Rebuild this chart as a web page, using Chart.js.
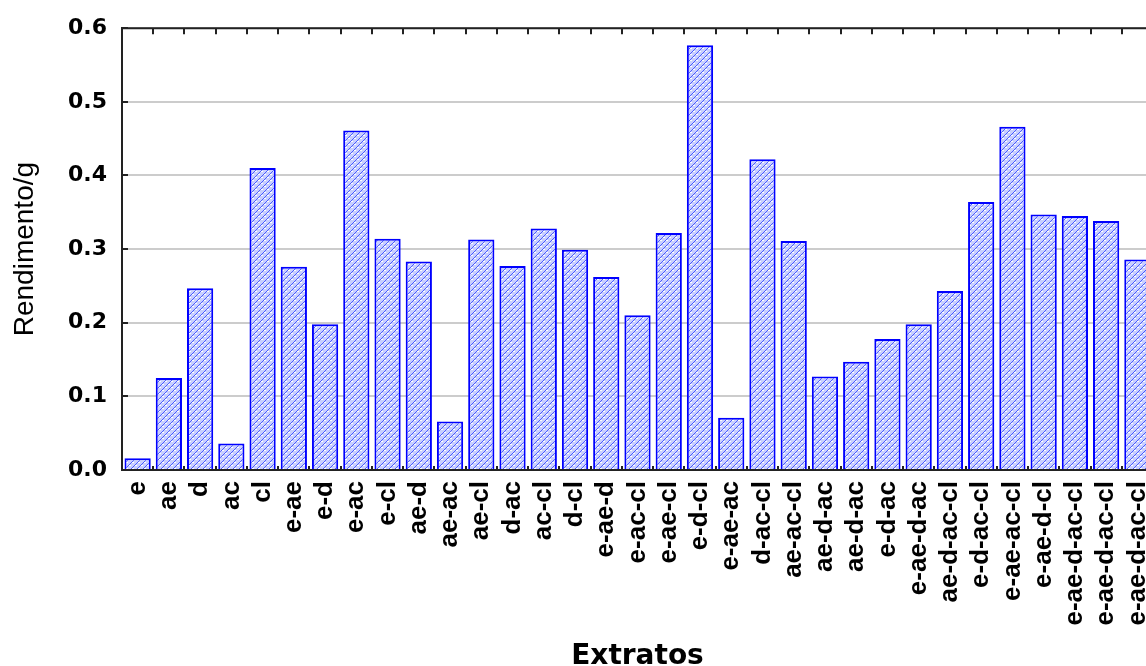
<!DOCTYPE html>
<html>
<head>
<meta charset="utf-8">
<script src="https://cdn.jsdelivr.net/npm/chart.js"></script>
<style>
  html, body { margin: 0; padding: 0; background: #fff; overflow: hidden; }
  #wrap { width: 1146px; height: 666px; overflow: hidden; }
  canvas { display: block; }
</style>
</head>
<body>
<div id="wrap"><canvas id="c" width="1156" height="666" style="width:1156px;height:666px"></canvas></div>
<script>
const categories = ["e","ae","d","ac","cl","e-ae","e-d","e-ac","e-cl","ae-d","ae-ac","ae-cl","d-ac","ac-cl","d-cl","e-ae-d","e-ac-cl","e-ae-cl","e-d-cl","e-ae-ac","d-ac-cl","ae-ac-cl","ae-d-ac","ae-d-ac","e-d-ac","e-ae-d-ac","ae-d-ac-cl","e-d-ac-cl","e-ae-ac-cl","e-ae-d-cl","e-ae-d-ac-cl","e-ae-d-ac-cl","e-ae-d-ac-cl"];
const rendimento = [0.016,0.125,0.247,0.036,0.410,0.276,0.198,0.461,0.314,0.283,0.066,0.313,0.277,0.328,0.299,0.262,0.210,0.322,0.577,0.071,0.422,0.311,0.127,0.147,0.178,0.198,0.243,0.364,0.466,0.347,0.345,0.338,0.286];
const yMin = 0, yMax = 0.6, yStep = 0.1;
const yTitle = "Rendimento/g";
const xTitle = "Extratos";

function makePattern() {
  const p = document.createElement('canvas');
  p.width = 6; p.height = 6;
  const g = p.getContext('2d');
  g.fillStyle = '#c9cfff';
  g.fillRect(0, 0, 6, 6);
  g.fillStyle = '#ffffff';
  g.fillRect(0, 0, 2, 1);
  g.fillRect(3, 3, 2, 1);
  g.strokeStyle = '#4a5cff';
  g.lineWidth = 1;
  g.beginPath();
  g.moveTo(0, 6); g.lineTo(6, 0);
  g.moveTo(-1, 1); g.lineTo(1, -1);
  g.moveTo(5, 7); g.lineTo(7, 5);
  g.stroke();
  return document.getElementById('c').getContext('2d').createPattern(p, 'repeat');
}

const frameTicks = {
  id: 'frameTicks',
  afterDraw(chart) {
    const ctx = chart.ctx;
    const a = chart.chartArea;
    const xs = chart.scales.x;
    const ys = chart.scales.y;
    ctx.save();
    ctx.strokeStyle = '#222';
    ctx.lineWidth = 2;
    ctx.beginPath();
    ctx.moveTo(a.left, a.top);
    ctx.lineTo(a.right + 2, a.top);
    ctx.stroke();
    const n = categories.length;
    const w = (xs.getPixelForValue(n - 1) - xs.getPixelForValue(0)) / (n - 1);
    ctx.beginPath();
    for (let i = 1; i < n; i++) {
      const x = Math.round(xs.getPixelForValue(i) - w / 2);
      ctx.moveTo(x, a.top); ctx.lineTo(x, a.top + 6);
      ctx.moveTo(x, a.bottom); ctx.lineTo(x, a.bottom - 4);
    }
    ctx.stroke();
    ctx.beginPath();
    ys.ticks.forEach(t => {
      const y = Math.round(ys.getPixelForValue(t.value));
      ctx.moveTo(a.left, y); ctx.lineTo(a.left + 6, y);
    });
    ctx.stroke();
    ctx.restore();
  }
};

new Chart(document.getElementById('c'), {
  type: 'bar',
  data: {
    labels: categories,
    datasets: [{
      data: rendimento,
      backgroundColor: makePattern(),
      borderColor: '#0000ff',
      borderWidth: 2,
      barPercentage: 0.84,
      categoryPercentage: 1.0
    }]
  },
  plugins: [frameTicks],
  options: {
    responsive: false,
    devicePixelRatio: 1,
    animation: false,
    layout: { padding: { top: 25, right: 3, bottom: 0, left: 0 } },
    plugins: { legend: { display: false }, tooltip: { enabled: false } },
    scales: {
      x: {
        grid: { display: false, drawTicks: false },
        border: { display: true, color: '#222', width: 2 },
        ticks: {
          autoSkip: false, minRotation: 90, maxRotation: 90, padding: 11,
          color: '#000',
          font: { family: 'Liberation Sans', weight: 'bold', size: 26 }
        },
        title: {
          display: true, text: xTitle, color: '#000',
          font: { family: 'DejaVu Sans', weight: 'bold', size: 28, lineHeight: 0.65 },
          padding: { top: 0, bottom: 0 }
        },
        afterFit(s) { s.height = 196; s.paddingLeft = 0; s.paddingRight = 0; }
      },
      y: {
        min: yMin, max: yMax,
        grid: { color: '#cccccc', lineWidth: 2, drawTicks: false },
        border: { display: true, color: '#222', width: 2 },
        ticks: {
          stepSize: yStep, padding: 15, color: '#000',
          font: { family: 'DejaVu Sans', weight: 'bold', size: 22 },
          callback: v => Number(v).toFixed(1)
        },
        title: {
          display: true, text: yTitle, color: '#000',
          font: { family: 'Liberation Sans', size: 28 },
          padding: { top: 8, bottom: 0 }
        },
        afterFit(s) { s.width = 122; }
      }
    }
  }
});
</script>
</body>
</html>
